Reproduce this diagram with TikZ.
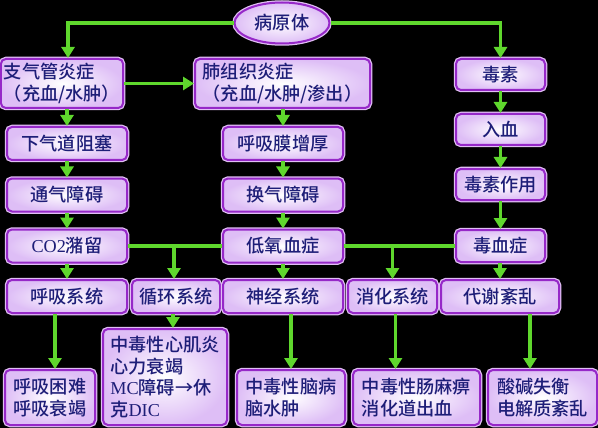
\documentclass[tikz,border=0pt]{standalone}
\usepackage{fontspec}
\setmainfont{Liberation Serif}
\newfontfamily\cjk{Noto Sans CJK SC}[BoldFont={Noto Sans CJK SC Medium}]
\usetikzlibrary{arrows.meta,shapes.geometric}
\definecolor{bxborder}{RGB}{150,40,200}
\definecolor{bxglow}{RGB}{225,190,245}
\definecolor{bxedge}{RGB}{222,190,246}
\definecolor{txt}{RGB}{30,30,120}
\definecolor{arrg}{RGB}{95,215,45}
\newcommand\lat[1]{{\rmfamily\mdseries #1}}
\tikzset{
  box/.style={rectangle, rounded corners=5pt, inner color=white, outer color=bxedge,
    preaction={draw=bxglow, line width=4.5pt},
    draw=bxborder, line width=2pt, text=txt, inner sep=3pt,
    font=\cjk\bfseries\fontsize{18.2}{21.5}\selectfont},
  oval/.style={ellipse, inner color=white, outer color=bxedge,
    preaction={draw=bxglow, line width=4.5pt},
    draw=bxborder, line width=2pt, text=txt, inner sep=0pt,
    font=\cjk\bfseries\fontsize{18.2}{21.5}\selectfont},
  arr/.style={draw=arrg, line width=3.5pt, -{Triangle[width=13pt,length=11pt]}},
  ln/.style={draw=arrg, line width=3.5pt}
}
\begin{document}
\begin{tikzpicture}[x=1pt,y=-1pt]
\fill[black] (0,0) rectangle (598,428);
\useasboundingbox (0,0) rectangle (598,428);
% top
\node[oval, minimum width=95pt, minimum height=41pt] (yb) at (282,23) {病原体};
\node[box, minimum width=118pt, minimum height=49pt, align=left] (b1) at (62,83.5) {支气管炎症\\（充血/水肿）};
\node[box, minimum width=175pt, minimum height=49pt, align=left] (b2) at (282.5,83.5) {肺组织炎症\\（充血/水肿/渗出）};
% right column
\node[box, minimum width=89pt, minimum height=31pt] (r1) at (500.5,74.5) {毒素};
\node[box, minimum width=89pt, minimum height=31pt] (r2) at (500.5,129.5) {入血};
\node[box, minimum width=89pt, minimum height=31pt] (r3) at (500.5,184.5) {毒素作用};
\node[box, minimum width=89pt, minimum height=32pt] (r4) at (500.5,246) {毒血症};
% left column
\node[box, minimum width=120pt, minimum height=33pt] (l1) at (67,143.5) {下气道阻塞};
\node[box, minimum width=120pt, minimum height=33pt] (l2) at (67,195) {通气障碍};
\node[box, minimum width=120pt, minimum height=33pt] (l3) at (67,246) {\lat{CO2}潴留};
% middle column
\node[box, minimum width=120pt, minimum height=33pt] (m1) at (283,143.5) {呼吸膜增厚};
\node[box, minimum width=120pt, minimum height=33pt] (m2) at (283,195) {换气障碍};
\node[box, minimum width=120pt, minimum height=33pt] (m3) at (283,246) {低氧血症};
% systems row
\node[box, minimum width=120pt, minimum height=33pt] (s1) at (67,296.5) {呼吸系统};
\node[box, minimum width=88pt, minimum height=33pt] (s2) at (176,296.5) {循环系统};
\node[box, minimum width=120pt, minimum height=33pt] (s3) at (283,296.5) {神经系统};
\node[box, minimum width=89pt, minimum height=33pt] (s4) at (392.5,296.5) {消化系统};
\node[box, minimum width=118pt, minimum height=33pt] (s5) at (500,296.5) {代谢紊乱};
% bottom row
\node[box, minimum width=90pt, minimum height=55pt, align=left] (t1) at (50,397.5) {呼吸困难\\呼吸衰竭};
\node[box, minimum width=124pt, minimum height=96pt, align=left] (t2) at (165,377) {中毒性心肌炎\\心力衰竭\\\lat{MC}障碍→休\\克\lat{DIC}};
\node[box, minimum width=108pt, minimum height=55pt, align=left] (t3) at (291,397.5) {中毒性脑病\\脑水肿};
\node[box, minimum width=127pt, minimum height=55pt, align=left] (t4) at (416.5,397.5) {中毒性肠麻痹\\消化道出血};
\node[box, minimum width=109pt, minimum height=55pt, align=left] (t5) at (542.5,397.5) {酸碱失衡\\电解质紊乱};
% connectors
\draw[arr] (yb.west) -| ([xshift=6pt]b1.north);
\draw[arr] (yb.east) -| (r1.north);
\draw[arr] (b1.east) -- (b2.west);
\draw[arr] (b1.south -| l1.north) -- (l1.north);
\draw[arr] (l1) -- (l2);
\draw[arr] (l2) -- (l3);
\draw[arr] (l3) -- (s1);
\draw[arr] (b2.south -| m1.north) -- (m1.north);
\draw[arr] (m1) -- (m2);
\draw[arr] (m2) -- (m3);
\draw[arr] (m3) -- (s3);
\draw[arr] (r1) -- (r2);
\draw[arr] (r2) -- (r3);
\draw[arr] (r3) -- (r4);
\draw[arr] (r4.south -| s5.north) -- (s5.north);
\draw[ln] (l3.east) -- (m3.west);
\draw[ln] (m3.east) -- (r4.west);
\draw[arr] ([xshift=-2pt]l3.east -| s2.north) -- ([xshift=-2pt]s2.north);
\draw[arr] (m3.east -| s4.north) -- (s4.north);
\draw[arr] ([xshift=-12pt]s1.south) -- ([xshift=-12pt]s1.south |- t1.north);
\draw[arr] ([xshift=-3pt]s2.south) -- ([xshift=-3pt]s2.south |- t2.north);
\draw[arr] (t3.north |- s3.south) -- (t3.north);
\draw[arr] ([xshift=3pt]s4.south) -- ([xshift=3pt]s4.south |- t4.north);
\draw[arr] ([xshift=30pt]s5.south) -- ([xshift=30pt]s5.south |- t5.north);
\end{tikzpicture}
\end{document}
